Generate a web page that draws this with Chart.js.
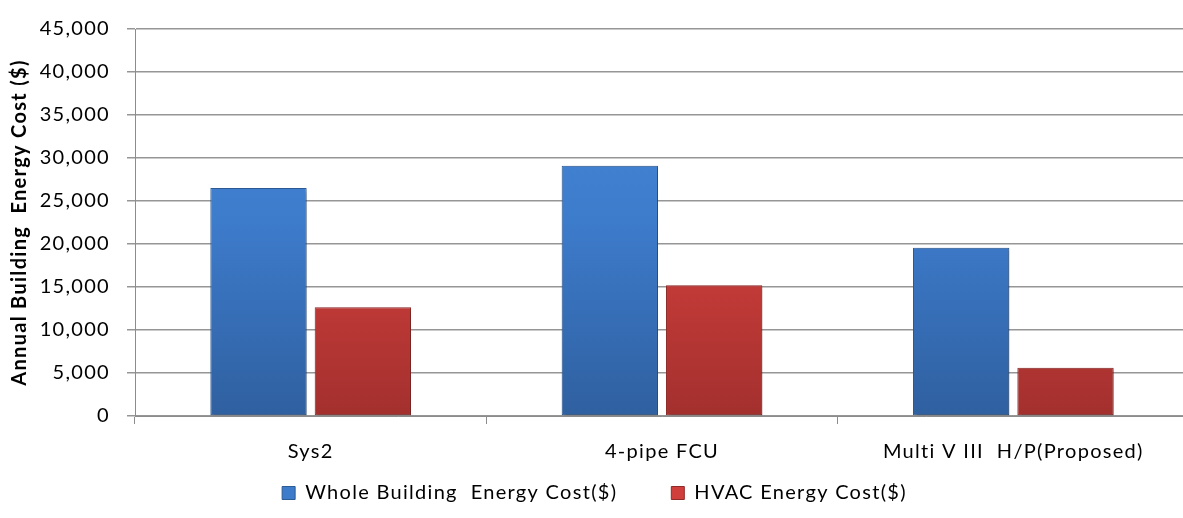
<!DOCTYPE html>
<html>
<head>
<meta charset="utf-8">
<script src="https://cdn.jsdelivr.net/npm/chart.js@4.4.1/dist/chart.umd.min.js"></script>
<style>
  html, body { margin: 0; padding: 0; background: #fff; overflow: hidden; }
  #wrap { width: 1190px; height: 518px; position: relative; }
</style>
</head>
<body>
<div id="wrap"><canvas id="c" width="1190" height="518"></canvas></div>
<script>
const categories = ['Sys2', '4-pipe FCU', 'Multi V III  H/P(Proposed)'];
const seriesNames = ['Whole Building  Energy Cost($)', 'HVAC Energy Cost($)'];
const wholeBuilding = [26500, 29100, 19550];
const hvac = [12650, 15200, 5600];
const yTicks = [0, 5000, 10000, 15000, 20000, 25000, 30000, 35000, 40000, 45000];

const FONT = 'Lato, "Open Sans", sans-serif';
const LETTER_SPACING = '1.3px';

function barGradient(ctx, light, mid, dark) {
  const chart = ctx.chart;
  const area = chart.chartArea;
  if (!area) return mid;
  const g = chart.ctx.createLinearGradient(0, area.top, 0, area.bottom);
  g.addColorStop(0, light);
  g.addColorStop(0.5, mid);
  g.addColorStop(1, dark);
  return g;
}

const spacingPlugin = {
  id: 'letterSpacing',
  beforeUpdate(chart) { chart.ctx.letterSpacing = LETTER_SPACING; },
  beforeDraw(chart) { chart.ctx.letterSpacing = LETTER_SPACING; }
};

const shadowPlugin = {
  id: 'barShadow',
  beforeDatasetsDraw(chart) {
    const c = chart.ctx;
    c.save();
    c.shadowColor = 'rgba(0,0,0,0.35)';
    c.shadowBlur = 3;
    c.shadowOffsetX = 1.5;
    c.shadowOffsetY = 1.5;
  },
  afterDatasetsDraw(chart) {
    chart.ctx.restore();
  }
};

new Chart(document.getElementById('c'), {
  type: 'bar',
  data: {
    labels: categories,
    datasets: [
      {
        label: seriesNames[0],
        data: wholeBuilding,
        backgroundColor: (ctx) => barGradient(ctx, '#4a8bdb', '#3d7bcb', '#2f60a0'),
        borderColor: '#2c5a93',
        borderWidth: 1,
        borderSkipped: false
      },
      {
        label: seriesNames[1],
        data: hvac,
        backgroundColor: (ctx) => barGradient(ctx, '#de4b48', '#d03f3c', '#a3302e'),
        borderColor: '#8f2a28',
        borderWidth: 1,
        borderSkipped: false
      }
    ]
  },
  options: {
    responsive: false,
    animation: false,
    devicePixelRatio: 1,
    layout: { padding: { top: 18, right: 1, left: 0, bottom: 5 } },
    datasets: {
      bar: { categoryPercentage: 0.594, barPercentage: 0.923 }
    },
    plugins: {
      legend: {
        position: 'bottom',
        labels: {
          font: { family: FONT, size: 20 },
          color: '#000',
          boxWidth: 13,
          boxHeight: 13,
          padding: 54,
          generateLabels(chart) {
            const cols = ['#3d7bcb', '#d03f3c'];
            const borders = ['#2c5a93', '#8f2a28'];
            return chart.data.datasets.map((ds, i) => ({
              text: ds.label,
              fillStyle: cols[i],
              strokeStyle: borders[i],
              lineWidth: 1,
              datasetIndex: i,
              fontColor: '#000'
            }));
          }
        }
      },
      tooltip: { enabled: false }
    },
    scales: {
      x: {
        afterFit(scale) {
          scale.height = 13;
          scale._computeLabelArea = () => undefined;
        },
        grid: {
          offset: true,
          drawOnChartArea: false,
          drawTicks: true,
          tickLength: 8,
          color: '#8c8c8c',
          lineWidth: 1
        },
        border: { color: '#8c8c8c', width: 1 },
        ticks: {
          font: { family: FONT, size: 20 },
          color: '#000',
          padding: 16,
          maxRotation: 0,
          autoSkip: false
        }
      },
      y: {
        min: 0,
        max: 45000,
        afterFit(scale) { scale.width = 135; },
        afterBuildTicks(scale) { scale.ticks = yTicks.map(v => ({ value: v })); },
        grid: {
          color: '#969696',
          lineWidth: 1.5,
          tickLength: 8
        },
        border: { color: '#8c8c8c', width: 1 },
        title: {
          display: true,
          text: 'Annual Building  Energy Cost ($)',
          font: { family: FONT, size: 20, weight: 'bold' },
          color: '#000',
          padding: { top: 8, bottom: 4 }
        },
        ticks: {
          font: { family: FONT, size: 20 },
          color: '#000',
          padding: 17,
          callback: (v) => v.toLocaleString('en-US')
        }
      }
    }
  },
  plugins: [spacingPlugin, shadowPlugin]
});
</script>
</body>
</html>
